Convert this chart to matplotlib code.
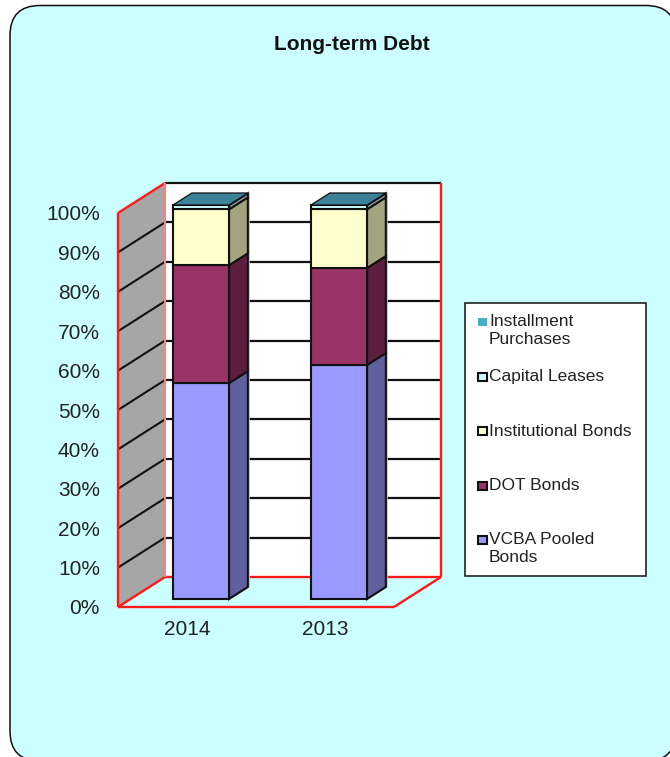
import matplotlib
matplotlib.use("Agg")
import matplotlib.pyplot as plt
from matplotlib.patches import Polygon, FancyBboxPatch, Rectangle
from matplotlib.transforms import Affine2D

plt.rcParams['font.family'] = ['Liberation Sans', 'DejaVu Sans']

# ---- data ----
years = ['2014', '2013']
vcba_pooled = [54.8, 59.4]
dot_bonds = [29.9, 24.6]
institutional = [14.2, 14.9]
capital_leases = [1.0, 1.0]
installment = [0.1, 0.1]
legend_labels = ['Installment\nPurchases', 'Capital Leases', 'Institutional Bonds', 'DOT Bonds', 'VCBA Pooled\nBonds']
y_ticks = list(range(0, 101, 10))
y_labels = [f'{v}%' for v in y_ticks]
title = 'Long-term Debt'

# ---- styles ----
front = ['#9999FF', '#993366', '#FFFFCC', '#CCFFFF', '#3A8199']
side = ['#60609F', '#5C1F40', '#A3A380', '#8FB0AE', '#2F6F85']
legend_col = ['#9999FF', '#993366', '#FFFFCC', '#CCFFFF', '#4BACC8']
PANEL = '#CCFFFF'
W, H = 670, 757

fig = plt.figure(figsize=(W / 100, H / 100), dpi=100, facecolor='white')
px = Affine2D().scale(1, -1).translate(0, H)

panel = FancyBboxPatch((10, 5.5), 666, 755.5, boxstyle='round,pad=0,rounding_size=30',
                       facecolor=PANEL, edgecolor='#111111', linewidth=1.1, transform=px,
                       zorder=-5)
fig.add_artist(panel)

# axes = front plane of the 3D box
L, R, T, B = 118, 394, 213, 607
ax = fig.add_axes([L / W, 1 - B / H, (R - L) / W, (B - T) / H])
ax.set_xlim(-0.5, 1.5)
ax.set_ylim(0, 100)
ax.patch.set_alpha(0)
for s in ax.spines.values():
    s.set_visible(False)

xpp = 2 / (R - L)
ypp = 100 / (B - T)
DX, DY = 47 * xpp, 30 * ypp


def proj(x, y, d):
    return (x + d * DX, y + d * DY)


def face(pts, fc, ec='none', lw=0, z=1):
    ax.add_patch(Polygon(pts, closed=True, facecolor=fc, edgecolor=ec, linewidth=lw,
                         clip_on=False, zorder=z, joinstyle='miter'))


def line(p, q, c='#111111', lw=1.6, z=2):
    ax.plot([p[0], q[0]], [p[1], q[1]], color=c, lw=lw, clip_on=False, zorder=z,
            solid_capstyle='butt')


x0, x1 = -0.5, 1.5
# walls
face([proj(x0, 0, 1), proj(x1, 0, 1), proj(x1, 100, 1), proj(x0, 100, 1)], 'white')
face([proj(x0, 0, 0), proj(x0, 0, 1), proj(x0, 100, 1), proj(x0, 100, 0)], '#A6A6A6')
# grid
for v in y_ticks[1:]:
    if v < 100:
        line(proj(x0, v, 0), proj(x0, v, 1), lw=1.5)
    line(proj(x0, v, 1), proj(x1, v, 1), lw=1.6)
# red frame
RED = '#FF1A1A'
for a, b in [((x0, 0, 0), (x1, 0, 0)), ((x1, 0, 0), (x1, 0, 1)), ((x1, 0, 1), (x0, 0, 1)),
             ((x0, 0, 1), (x0, 0, 0)), ((x0, 0, 0), (x0, 100, 0)), ((x0, 100, 0), (x0, 100, 1)),
             ((x1, 0, 1), (x1, 100, 1))]:
    line(proj(*a), proj(*b), c=RED, lw=1.7, z=3)
line(proj(x0, 0, 1), proj(x0, 100, 1), c='#FF8080', lw=1.5, z=3)

# bars
BW = 56 * xpp
D0, D1 = 8 / 30, 20 / 30
stacks = [vcba_pooled, dot_bonds, institutional, capital_leases, installment]
EC = '#111111'
for i in range(len(years)):
    xc = i + 1.5 * xpp
    xl, xr = xc - BW / 2, xc + BW / 2
    total = sum(s[i] for s in stacks)
    sx = 2 * xpp
    face([proj(xr + sx, 0, D0), proj(xr + sx, 0, D1), proj(xr + sx, total, D1),
          proj(xr, total, D1), proj(xr, 0, D0)], '#BBBBBB', z=3.5)
    base = 0
    for k, s in enumerate(stacks):
        top = base + s[i]
        z = 4 + k
        if k < 4:
            face([proj(xr, base, D0), proj(xr, base, D1), proj(xr, top, D1), proj(xr, top, D0)],
                 side[k], ec=EC, lw=1.5, z=z)
            face([proj(xl, base, D0), proj(xr, base, D0), proj(xr, top, D0), proj(xl, top, D0)],
                 front[k], ec=EC, lw=1.5, z=z + 0.1)
        else:
            face([proj(xl, top, D0), proj(xr, top, D0), proj(xr, top, D1), proj(xl, top, D1)],
                 front[k], ec=EC, lw=0.9, z=z)
        base = top

# ticks
ax.set_xticks(range(len(years)))
ax.set_xticklabels(years, fontsize=15, color='#222222')
ax.set_yticks(y_ticks)
ax.set_yticklabels(y_labels, fontsize=15, color='#222222')
ax.tick_params(axis='both', length=0)
ax.tick_params(axis='y', pad=13)
ax.tick_params(axis='x', pad=9.3)

fig.text(352 / W, 1 - 45 / H, title, ha='center', va='center', fontsize=15,
         fontweight='bold', color='#111111')

# legend box, laid out by hand so first lines are evenly spaced as in the reference
fig.add_artist(Rectangle((465, 303), 181, 272.5, facecolor='white', edgecolor='#222222',
                         linewidth=1.2, transform=px, zorder=5))
for n, (k, lab) in enumerate(zip(range(4, -1, -1), legend_labels)):
    yc = 321 + 54.5 * n
    fig.add_artist(Rectangle((477.5, yc - 3), 9, 8,
                             facecolor=legend_col[k], edgecolor='none' if k == 4 else '#111111',
                             linewidth=1.5, transform=px, zorder=6))
    fig.text(489 / W, 1 - (yc - 6.5) / H, lab, ha='left', va='top', fontsize=12.5,
             color='#222222', linespacing=1.2, zorder=6)

fig.savefig('out.png', dpi=100, facecolor='white')
